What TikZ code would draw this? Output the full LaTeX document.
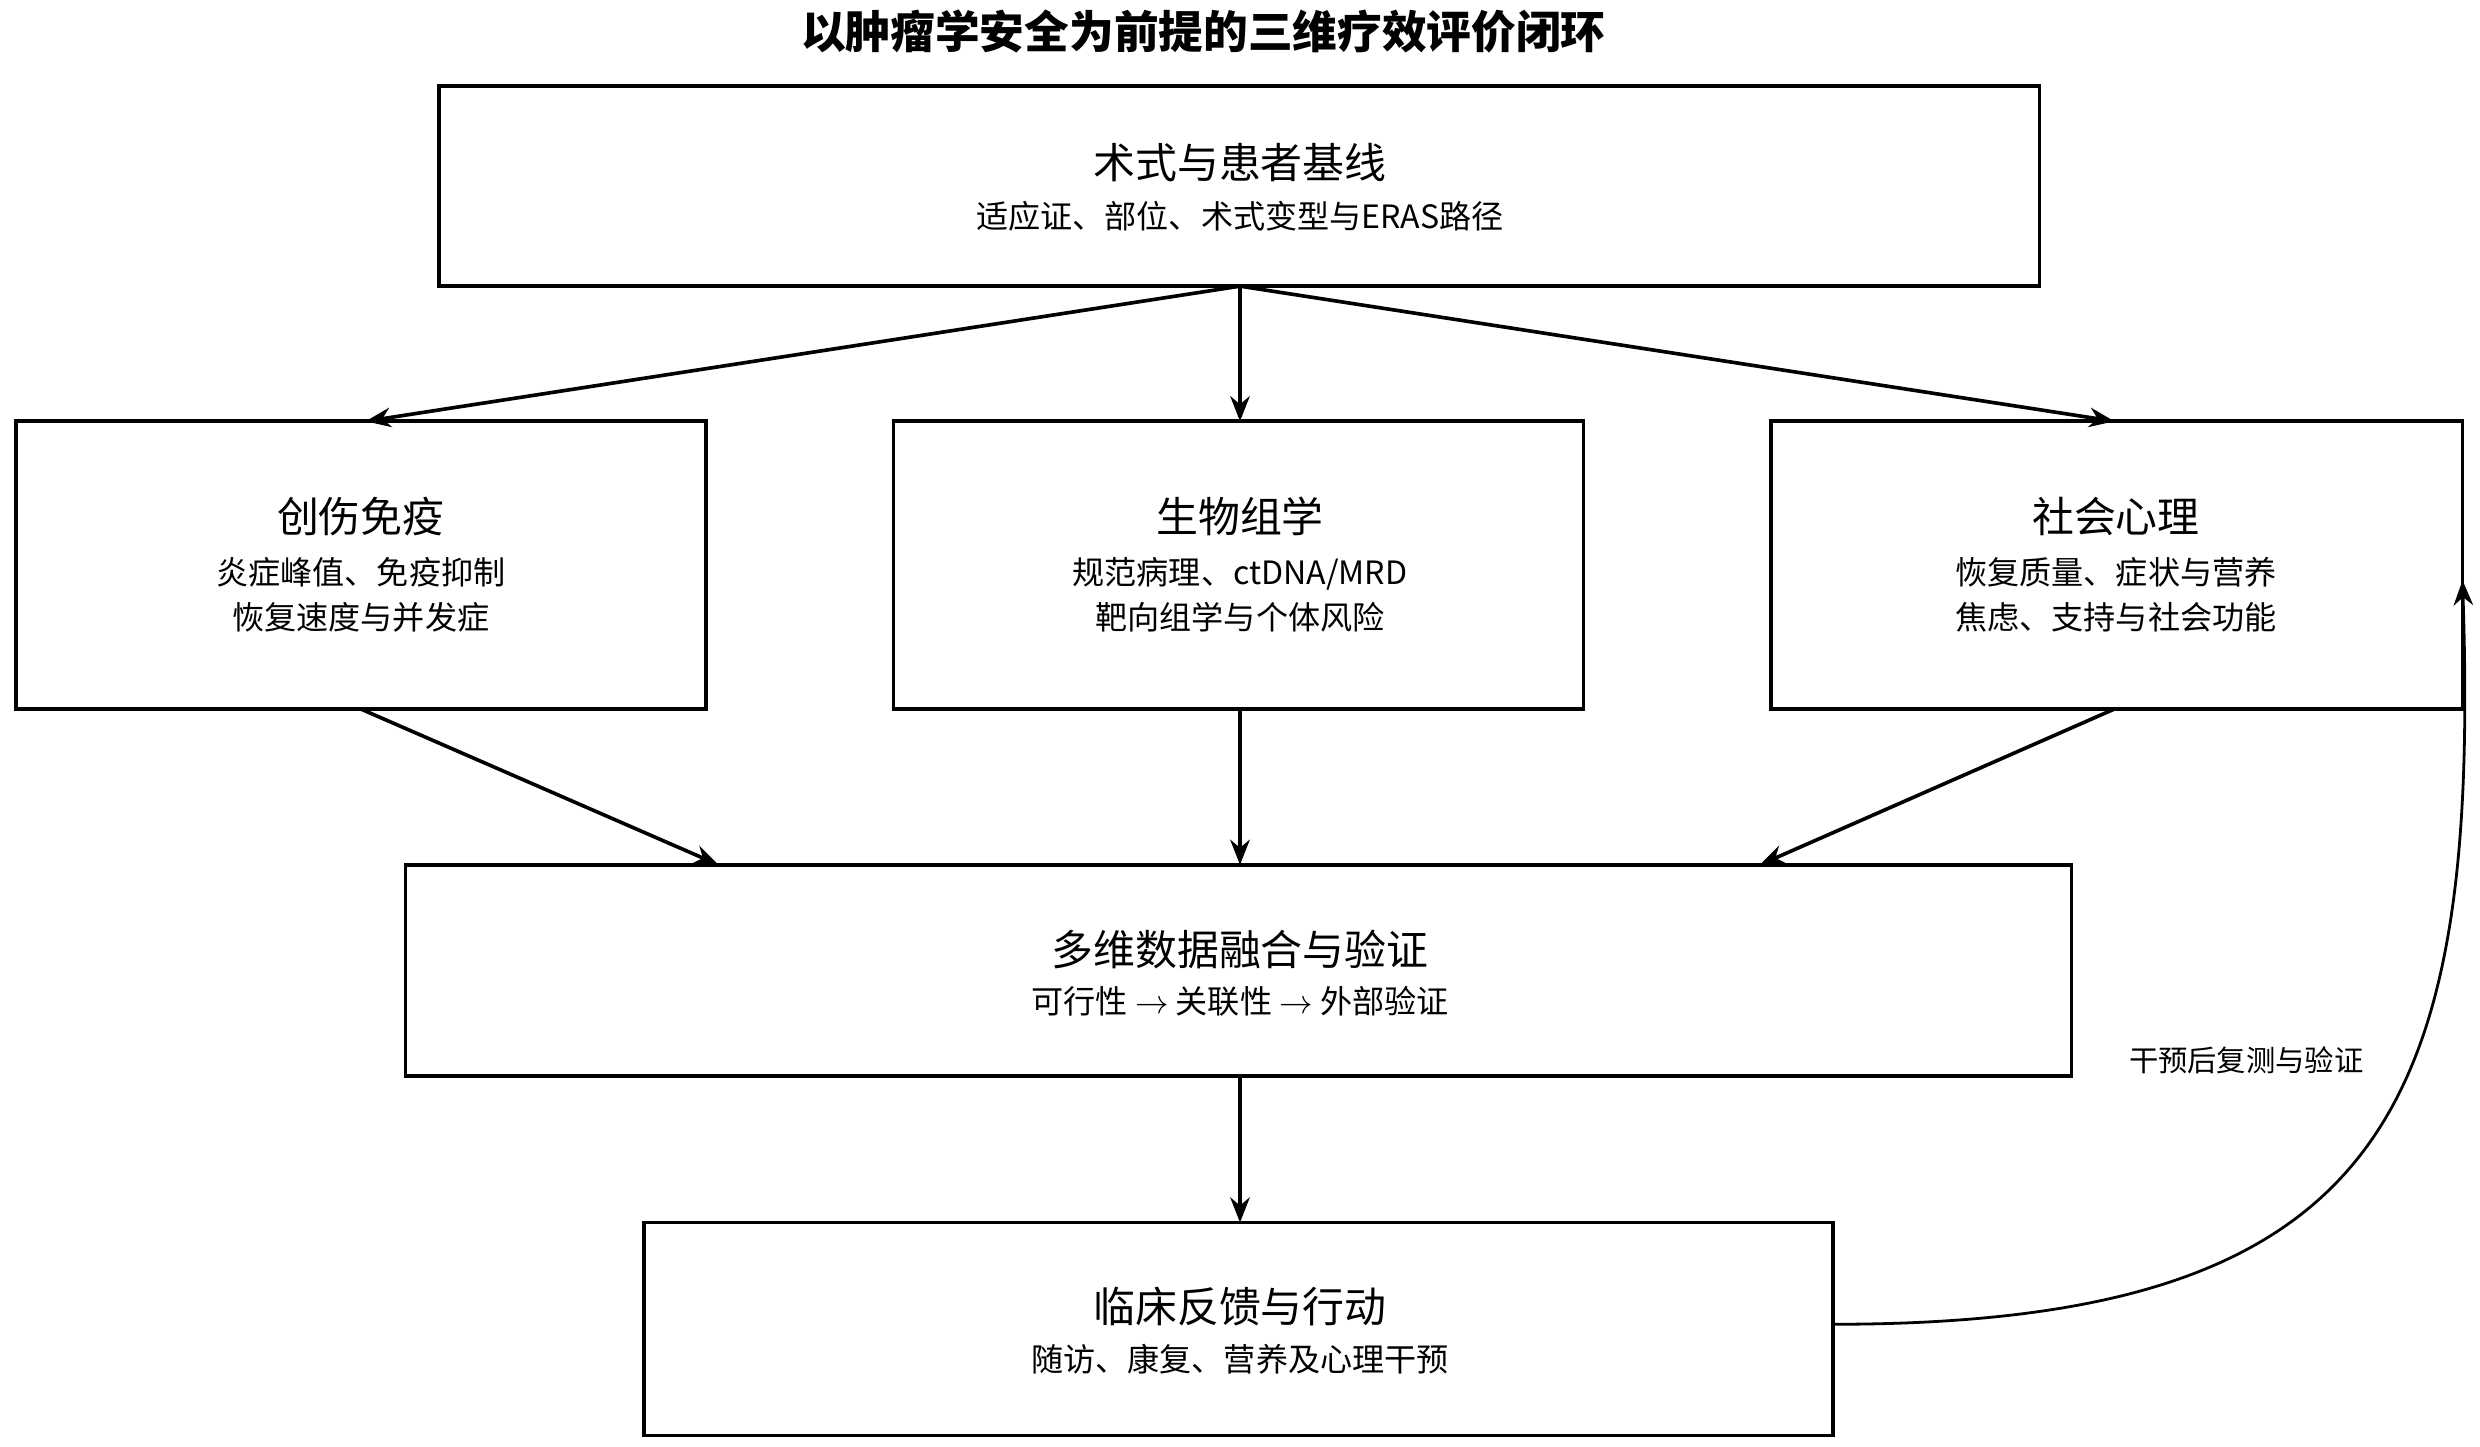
\documentclass[tikz,border=0pt]{standalone}
\usepackage{fontspec}
\setmainfont{Noto Sans CJK SC}
\newfontfamily\cjk{Noto Sans CJK SC}
\usetikzlibrary{arrows.meta}
\begin{document}
\begin{tikzpicture}[x=0.02cm,y=-0.02cm,
 box/.style={draw,line width=1.3pt,inner sep=0pt},
 arr/.style={-{Stealth[length=9pt,width=7pt]},line width=1.3pt},
 hd/.style={font=\fontsize{15}{18}\selectfont},
 sb/.style={font=\fontsize{11.5}{16}\selectfont}]
\useasboundingbox (0,0) rectangle (1560,910);
\node[font=\fontsize{16}{18}\selectfont\bfseries] (title) at (757,20) {以肿瘤学安全为前提的三维疗效评价闭环};
\draw[box] (276,54) rectangle (1283,180); \coordinate (topb) at (780,180);
\node[hd] (t1) at (780,102) {术式与患者基线};
\node[sb] (t2) at (780,136) {适应证、部位、术式变型与ERAS路径};
\draw[box] (10,265) rectangle (444,446);
\draw[box] (562,265) rectangle (996,446);
\draw[box] (1114,265) rectangle (1549,446);
\node[hd] (l1) at (227,325) {创伤免疫};
\node[sb,align=center] (l2) at (227,374) {炎症峰值、免疫抑制\\恢复速度与并发症};
\node[hd] (m1) at (780,325) {生物组学};
\node[sb,align=center] (m2) at (780,374) {规范病理、ctDNA/MRD\\靶向组学与个体风险};
\node[hd] (r1) at (1331,325) {社会心理};
\node[sb,align=center] (r2) at (1331,374) {恢复质量、症状与营养\\焦虑、支持与社会功能};
\draw[box] (255,544) rectangle (1303,677);
\node[hd] (f1) at (780,597) {多维数据融合与验证};
\node[sb] (f2) at (780,630) {可行性 $\rightarrow$ 关联性 $\rightarrow$ 外部验证};
\draw[box] (405,769) rectangle (1153,903);
\node[hd] (b1) at (780,822) {临床反馈与行动};
\node[sb] (b2) at (780,855) {随访、康复、营养及心理干预};
\coordinate (lt) at (230,265); \coordinate (mt) at (780,265); \coordinate (rt) at (1330,265);
\coordinate (lb) at (227,446); \coordinate (mb) at (780,446); \coordinate (rb) at (1330,446);
\coordinate (fl) at (452,544); \coordinate (fm) at (780,544); \coordinate (fr) at (1107,544);
\coordinate (fb) at (780,677); \coordinate (bt) at (780,769);
\coordinate (br) at (1153,833); \coordinate (rr) at (1549,365);
\draw[arr] (topb) -- (lt); \draw[arr] (topb) -- (mt); \draw[arr] (topb) -- (rt);
\draw[arr] (lb) -- (fl); \draw[arr] (mb) -- (fm); \draw[arr] (rb) -- (fr);
\draw[arr] (fb) -- (bt);
\draw[arr,line width=1pt] (br) .. controls (1500,833) and (1560,700) .. (rr);
\node[fill=white,inner sep=2pt,font=\fontsize{10.5}{12}\selectfont] (lab) at (1413,667) {干预后复测与验证};
\end{tikzpicture}
\end{document}
